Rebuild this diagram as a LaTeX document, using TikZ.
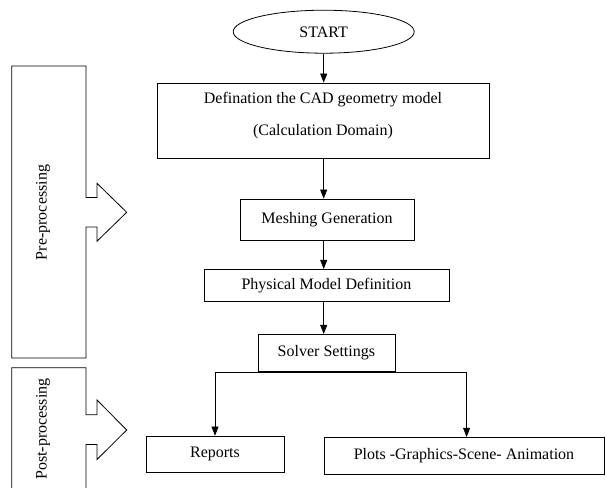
\documentclass[tikz,border=0pt]{standalone}
\usepackage{fontspec}
\setmainfont{Liberation Serif}
\usetikzlibrary{shapes.geometric,arrows.meta}
\begin{document}
\begin{tikzpicture}[x=1pt,y=-1pt,
  every node/.style={font=\fontsize{16}{18}\selectfont, inner sep=0pt},
  box/.style={draw, line width=0.8pt, rectangle},
  arr/.style={draw, line width=0.6pt, -{Triangle[length=9pt,width=7pt]}},
  outline/.style={draw, line width=0.8pt, line join=miter}]
\useasboundingbox (0,0) rectangle (606,488);
% flow boxes
\node[draw, line width=0.8pt, ellipse, minimum width=181pt, minimum height=43pt] (start) at (323.7,31.7) {};
\node (starttxt) at (323.7,32) {START};
\node[box, minimum width=332pt, minimum height=75pt] (cad) at (323,120.5) {};
\node[align=center] (cadtxt) at (323,116) {Defination the CAD geometry model\\[14pt](Calculation Domain)};
\node[box, minimum width=174pt, minimum height=41pt] (mesh) at (327,219.5) {Meshing Generation};
\node[box, minimum width=245pt, minimum height=32.4pt] (phys) at (326.4,285.5) {Physical Model Definition};
\node[box, minimum width=137pt, minimum height=37.4pt] (solver) at (326.4,353) {Solver Settings};
\node[box, minimum width=138pt, minimum height=36.7pt] (reports) at (215,454.4) {Reports};
\node[box, minimum width=280pt, minimum height=37pt] (plots) at (464,455.8) {Plots -Graphics-Scene- Animation};
% connectors
\draw[arr] (start.south) -- (start.south |- cad.north);
\draw[arr] (start.south |- cad.south) -- (start.south |- mesh.north);
\draw[arr] (start.south |- mesh.south) -- (start.south |- phys.north);
\draw[arr] (start.south |- phys.south) -- (start.south |- solver.north);
\coordinate (brL) at (reports.north |- solver.south);
\coordinate (brR) at (466.6,0 |- solver.south);
\draw[line width=0.6pt] (brL) -- (brR);
\draw[arr] (brL) -- (reports.north);
\draw[arr] (brR) -- (brR |- plots.north);
% side arrows
\draw[outline] (11.7,66) -- (86,66) -- (86,197.5) -- (97,197.5) -- (97,183.3) -- (126.7,212.3) -- (97,241.2) -- (97,227) -- (86,227) -- (86,358) -- (11.7,358) -- cycle;
\node[rotate=90] (pre) at (43,212.5) {Pre-processing};
\draw[outline] (11.7,490) -- (11.7,367.7) -- (86,367.7) -- (86,414.7) -- (97,414.7) -- (97,400) -- (126.7,430) -- (97,459.5) -- (97,444.5) -- (86,444.5) -- (86,490);
\node[rotate=90] (post) at (43,429) {Post-processing};
\end{tikzpicture}
\end{document}
